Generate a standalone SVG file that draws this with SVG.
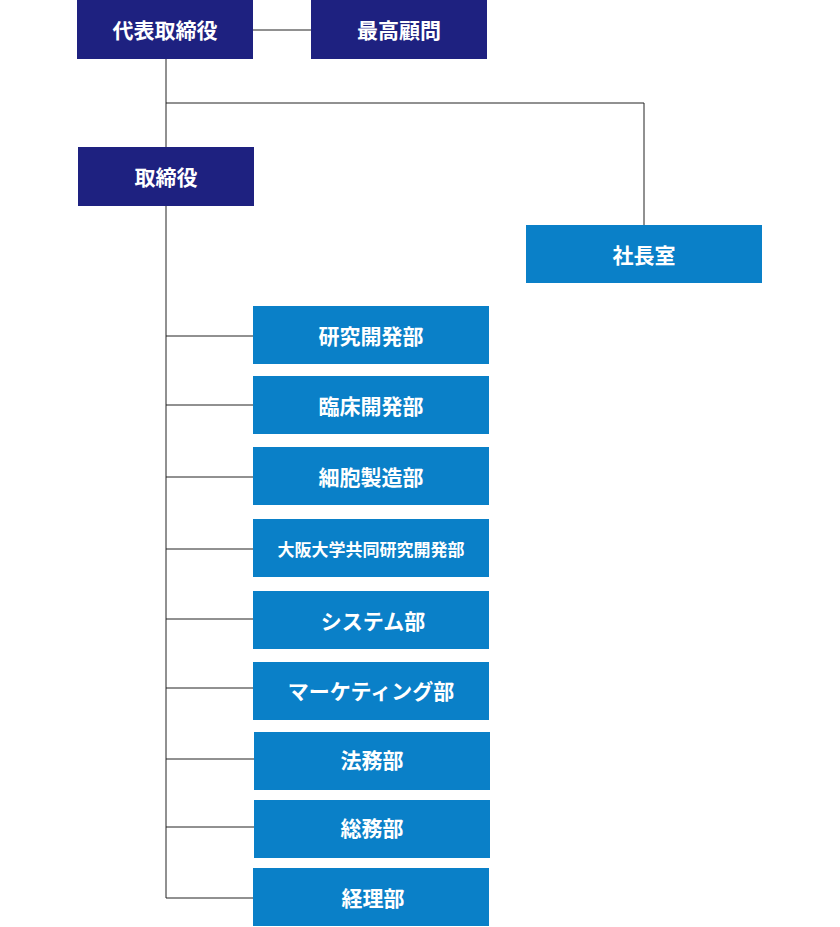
<svg xmlns="http://www.w3.org/2000/svg" width="840" height="927" viewBox="0 0 840 927">
<style>
.n{fill:#1e2180}.b{fill:#0a80c8}
text{fill:#fff;font-family:"Noto Sans CJK JP","Noto Sans",sans-serif;font-weight:bold;font-size:21px;text-anchor:middle;dominant-baseline:central}
.c line,.c polyline{stroke:#222;stroke-width:1;fill:none}
</style>
<rect width="840" height="927" fill="#fff"/>
<g class="c">
<line x1="253" y1="30" x2="311" y2="30"/>
<line x1="166" y1="59" x2="166" y2="147"/>
<polyline points="166,103 644,103 644,225"/>
<polyline points="166,206 166,898 253,898"/>
<line x1="166" y1="336" x2="253" y2="336"/>
<line x1="166" y1="405" x2="253" y2="405"/>
<line x1="166" y1="477" x2="253" y2="477"/>
<line x1="166" y1="549" x2="253" y2="549"/>
<line x1="166" y1="619" x2="253" y2="619"/>
<line x1="166" y1="688" x2="253" y2="688"/>
<line x1="166" y1="759" x2="254" y2="759"/>
<line x1="166" y1="827" x2="254" y2="827"/>
</g>
<g id="ceo"><rect class="n" x="77" y="0" width="176" height="59"/><text x="165" y="29">代表取締役</text></g>
<g id="adv"><rect class="n" x="311" y="0" width="176" height="59"/><text x="399" y="29">最高顧問</text></g>
<g id="dir"><rect class="n" x="78" y="147" width="176" height="59"/><text x="166" y="176">取締役</text></g>
<g id="pres"><rect class="b" x="526" y="225" width="236" height="58"/><text x="644" y="254">社長室</text></g>
<g id="d1"><rect class="b" x="253" y="306" width="236" height="58"/><text x="371" y="335">研究開発部</text></g>
<g id="d2"><rect class="b" x="253" y="376" width="236" height="58"/><text x="371" y="405">臨床開発部</text></g>
<g id="d3"><rect class="b" x="253" y="447" width="236" height="58"/><text x="371" y="476">細胞製造部</text></g>
<g id="d4"><rect class="b" x="253" y="519" width="236" height="58"/><text x="371" y="548" style="font-size:17px">大阪大学共同研究開発部</text></g>
<g id="d5"><rect class="b" x="253" y="591" width="236" height="58"/><text x="373" y="620">システム部</text></g>
<g id="d6"><rect class="b" x="253" y="662" width="236" height="58"/><text x="371" y="690">マーケティング部</text></g>
<g id="d7"><rect class="b" x="254" y="732" width="236" height="58"/><text x="372" y="759">法務部</text></g>
<g id="d8"><rect class="b" x="254" y="800" width="236" height="58"/><text x="372" y="827">総務部</text></g>
<g id="d9"><rect class="b" x="253" y="868" width="236" height="58"/><text x="373" y="897">経理部</text></g>
</svg>
